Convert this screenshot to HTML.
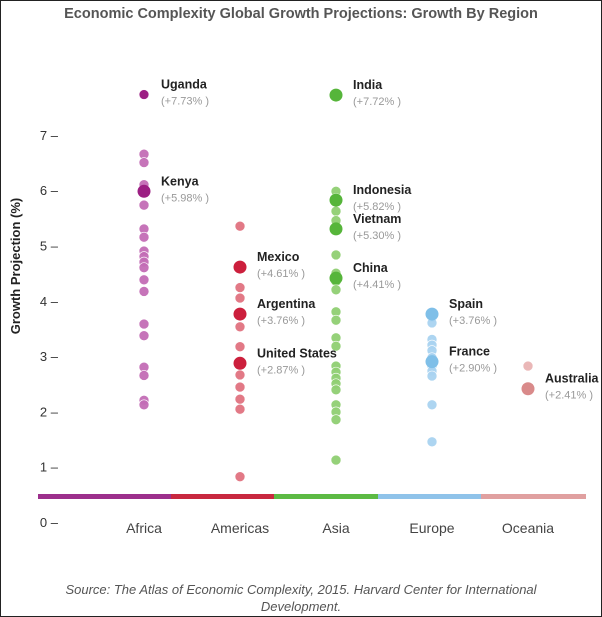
<!DOCTYPE html>
<html><head><meta charset="utf-8"><style>
html,body{margin:0;padding:0;background:#fff;}
#wrap{position:relative;width:600px;height:615px;border:1px solid #222;overflow:hidden;background:#fff;}
svg{position:absolute;left:0;top:0;}
text{font-family:"Liberation Sans",sans-serif;}
</style></head><body>
<div id="wrap">
<svg id="chart" width="602" height="617">
<text x="300" y="17" text-anchor="middle" font-size="14.5" font-weight="bold" fill="#555">Economic Complexity Global Growth Projections: Growth By Region</text>
<text transform="translate(19,265) rotate(-90)" text-anchor="middle" font-size="13" font-weight="bold" fill="#222">Growth Projection (%)</text>
<text x="300" y="593" text-anchor="middle" font-size="13" font-style="italic" fill="#555">Source: The Atlas of Economic Complexity, 2015. Harvard Center for International</text>
<text x="300" y="610" text-anchor="middle" font-size="13" font-style="italic" fill="#555">Development.</text>
<g id="axis"></g><g id="marks"></g><g id="labels"></g>
</svg>
</div>
<script>
const regions=["Africa","Americas","Asia","Europe","Oceania"];
const africa=[7.73,6.65,6.5,6.1,5.98,5.73,5.3,5.15,4.9,4.8,4.7,4.6,4.38,4.17,3.58,3.37,2.8,2.65,2.2,2.12];
const americas=[5.35,4.61,4.24,4.05,3.76,3.53,3.17,2.87,2.66,2.44,2.22,2.04,0.82];
const asia=[7.72,5.98,5.85,5.82,5.62,5.45,5.3,4.83,4.5,4.41,4.35,4.2,3.8,3.65,3.33,3.18,2.82,2.71,2.6,2.5,2.39,2.12,1.99,1.85,1.12];
const europe=[3.76,3.7,3.6,3.3,3.2,3.1,2.97,2.9,2.82,2.73,2.64,2.12,1.45];
const oceania=[2.82,2.41];
const highlightNames=["Uganda","Kenya","Mexico","Argentina","United States","India","Indonesia","Vietnam","China","Spain","France","Australia"];
const highlightRegion=[0,0,1,1,1,2,2,2,2,3,3,4];
const highlightValues=[7.73,5.98,4.61,3.76,2.87,7.72,5.82,5.30,4.41,3.76,2.90,2.41];
const yTicks=[0,1,2,3,4,5,6,7];
const series=[africa,americas,asia,europe,oceania];
const dark=["#9c1f83","#cc1f3c","#56b53a","#7fbfe8","#d98a8a"];
const light=["#c36db5","#e0727f","#8fcf72","#a9d3f0","#e9b3b3"];
const bandCol=["#9c2f8c","#c8283f","#5cba44","#8fc3ea","#e0a0a0"];
const y=v=>521-55.3*v;
const xc=i=>143+96*i;
const NS="http://www.w3.org/2000/svg";
function mk(t,a,p){const e=document.createElementNS(NS,t);for(const k in a)e.setAttribute(k,a[k]);p.appendChild(e);return e;}
const ax=document.getElementById('axis'),mg=document.getElementById('marks'),lg=document.getElementById('labels');
yTicks.forEach(t=>{const e=mk('text',{x:57,y:y(t)+5,'text-anchor':'end','font-size':13,fill:'#333'},ax);e.textContent=t+" –";

});
const edges=[37,170,273,377,480,585];
regions.forEach((r,i)=>{const b=mk('rect',{x:edges[i],y:493,width:edges[i+1]-edges[i],height:5,fill:bandCol[i]},ax);


const t=mk('text',{x:xc(i),y:532,'text-anchor':'middle','font-size':14,fill:'#444'},ax);t.textContent=r;

});
series.forEach((s,i)=>{s.forEach(v=>{const c=mk('circle',{cx:xc(i),cy:y(v),r:5,fill:light[i],stroke:'#fff','stroke-width':0.6,'fill-opacity':0.95},mg);

});});
highlightNames.forEach((n,k)=>{const i=highlightRegion[k],v=highlightValues[k];
const c=mk('circle',{cx:xc(i),cy:y(v),r:(n=="Uganda"?4.5:6.5),fill:dark[i]},mg);


const lx=xc(i)+17,ly=y(v);
const t=mk('text',{x:lx,y:ly-6,'font-size':12.5,'font-weight':'bold',fill:'#222'},lg);t.textContent=n;


const p=mk('text',{x:lx,y:ly+10,'font-size':11,fill:'#999'},lg);p.textContent="(+"+v.toFixed(2)+"% )";

});
</script>
</body></html>
